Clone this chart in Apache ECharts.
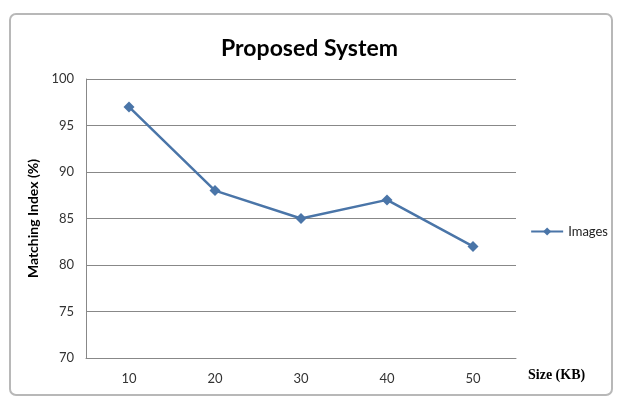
<!DOCTYPE html>
<html>
<head>
<meta charset="utf-8">
<script src="https://cdn.jsdelivr.net/npm/echarts@6/dist/echarts.min.js"></script>
<style>
  html, body { margin: 0; padding: 0; background: #fff; }
  #chart { width: 619px; height: 400px; }
</style>
</head>
<body>
<div id="chart"></div>
<script>
// data
const sizes = ['10', '20', '30', '40', '50'];
const images = [97, 88, 85, 87, 82];

const chart = echarts.init(document.getElementById('chart'));

chart.setOption({
  animation: false,
  backgroundColor: '#fff',
  graphic: [
    {
      type: 'rect',
      shape: { x: 10, y: 14, width: 602, height: 381, r: 6 },
      style: { fill: 'none', stroke: '#b8b8b8', lineWidth: 2 },
      silent: true
    }
  ],
  title: {
    text: 'Proposed System',
    left: 'center',
    top: 32,
    textStyle: { fontFamily: 'Lato', fontWeight: 'bold', fontSize: 23, color: '#000' }
  },
  legend: {
    data: ['Images'],
    right: 6,
    top: 220,
    orient: 'vertical',
    itemWidth: 32,
    itemHeight: 10,
    itemGap: 2,
    textStyle: { fontFamily: 'Lato', fontSize: 13, color: '#222' }
  },
  grid: { left: 86, right: 103, top: 79, bottom: 42 },
  xAxis: {
    type: 'category',
    data: sizes,
    boundaryGap: true,
    name: 'Size (KB)',
    nameLocation: 'end',
    nameGap: 12,
    nameTextStyle: {
      fontFamily: 'Liberation Serif', fontWeight: 'bold', fontSize: 14, color: '#000',
      verticalAlign: 'top', padding: [10, 0, 0, 0]
    },
    axisLine: { lineStyle: { color: '#888', width: 1 } },
    axisTick: { show: false },
    axisLabel: { fontFamily: 'Lato', fontSize: 13, color: '#333', margin: 14 }
  },
  yAxis: {
    type: 'value',
    min: 70,
    max: 100,
    interval: 5,
    name: 'Matching Index (%)',
    nameLocation: 'middle',
    nameGap: 40,
    nameTextStyle: { fontFamily: 'Lato', fontWeight: 'bold', fontSize: 14, color: '#000' },
    axisLine: { show: true, lineStyle: { color: '#888', width: 1 } },
    axisTick: { show: false },
    axisLabel: { fontFamily: 'Lato', fontSize: 13, color: '#333', margin: 12 },
    splitLine: { lineStyle: { color: '#888', width: 1 } }
  },
  series: [
    {
      name: 'Images',
      type: 'line',
      data: images,
      symbol: 'diamond',
      symbolSize: 11,
      itemStyle: { color: '#4a75a8' },
      lineStyle: { color: '#4a75a8', width: 2.5 }
    }
  ]
});
</script>
</body>
</html>
